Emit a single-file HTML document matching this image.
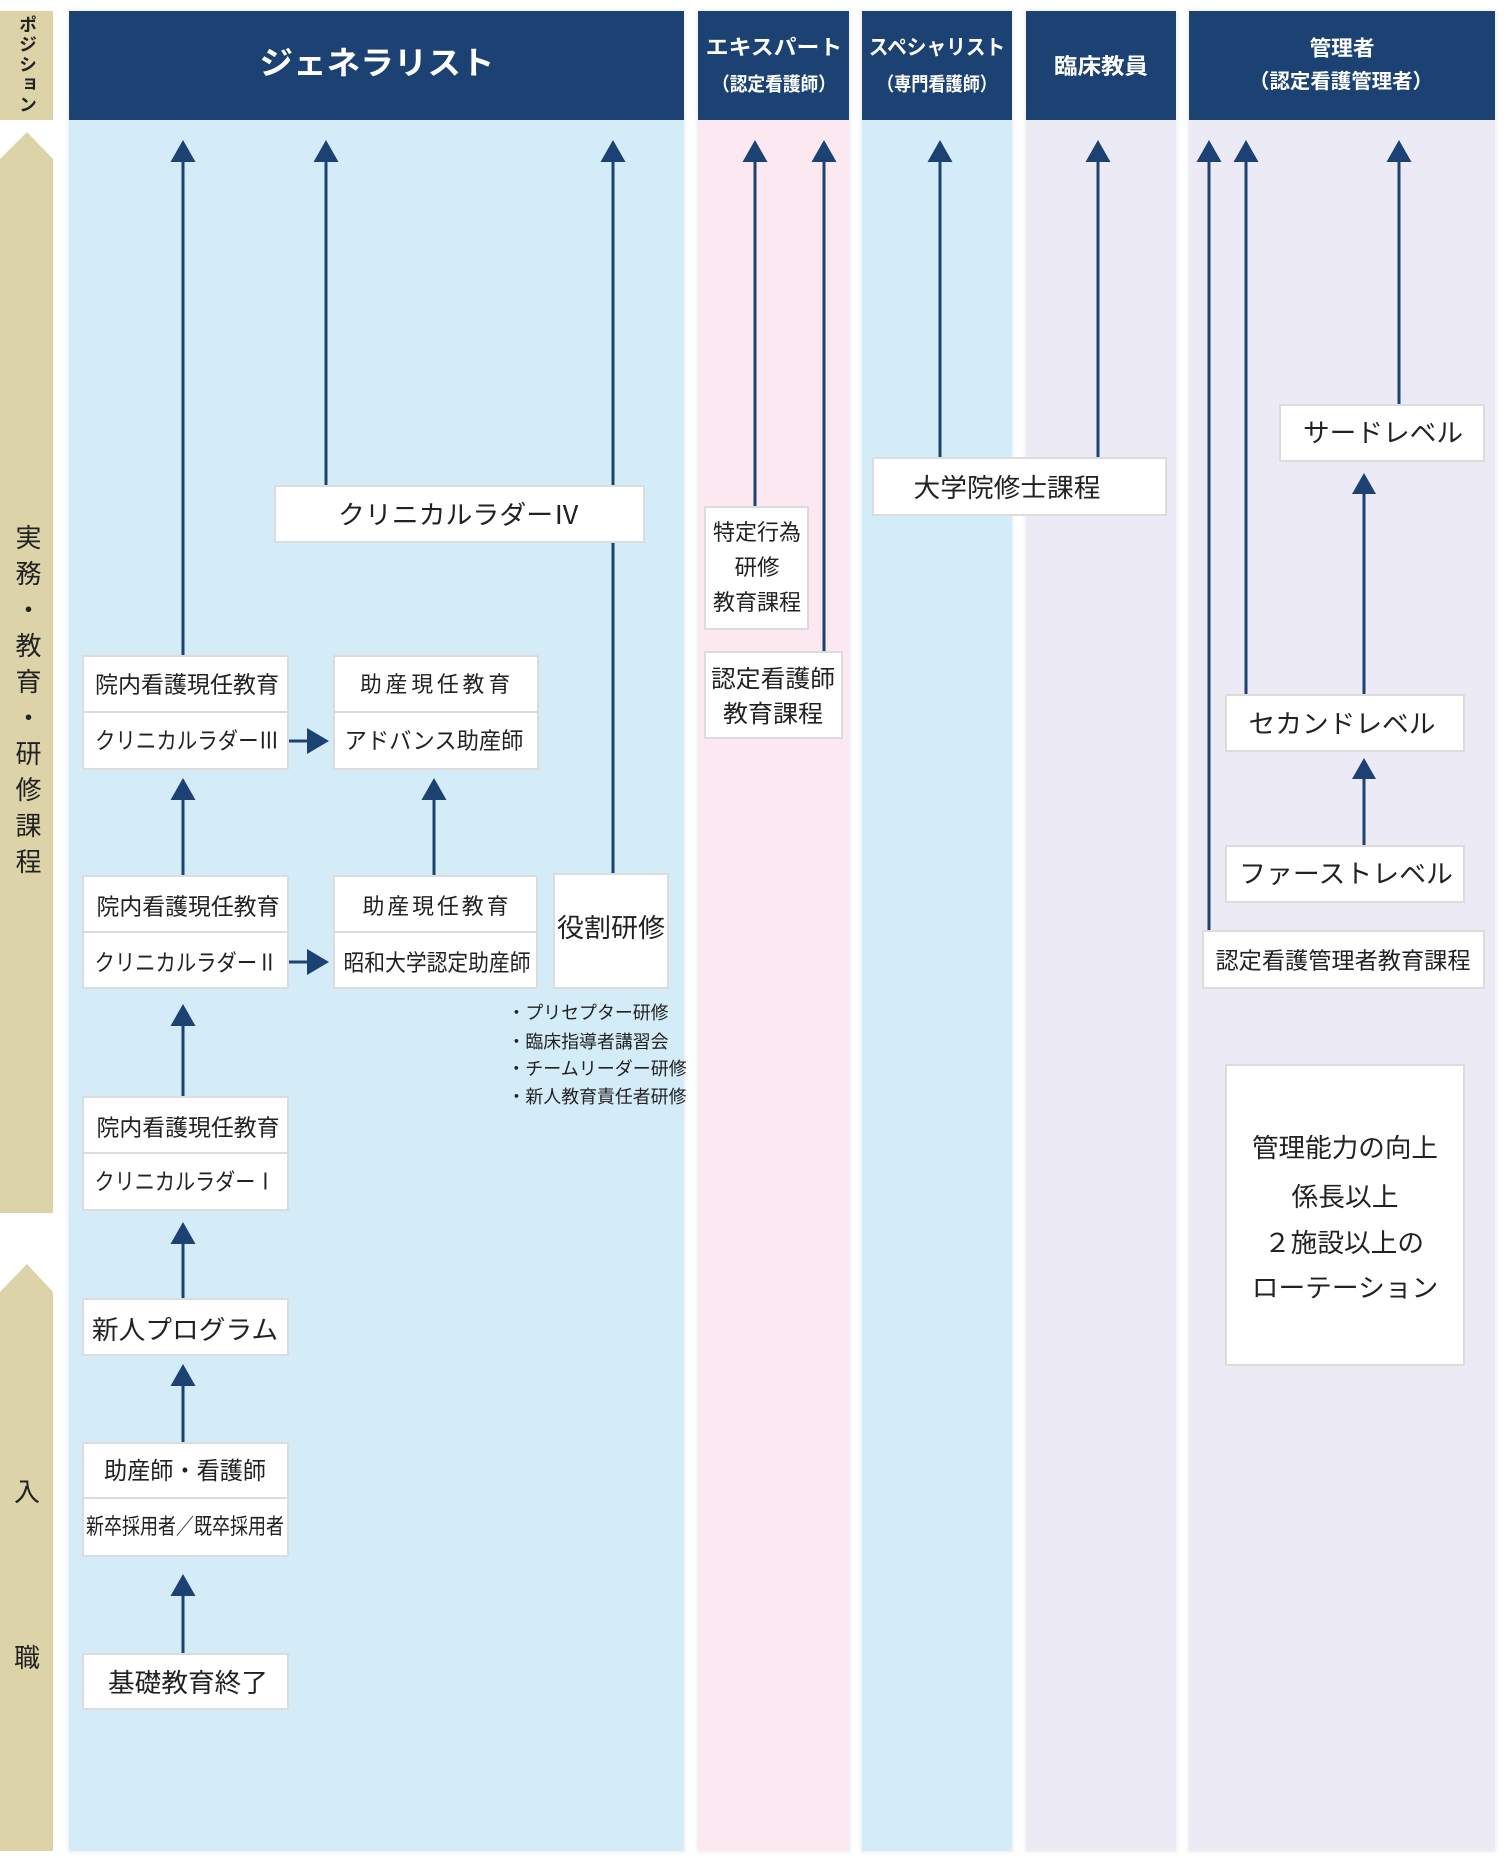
<!DOCTYPE html>
<html lang="ja">
<head>
<meta charset="utf-8">
<style>
html,body{margin:0;padding:0;background:#fff;}
body{position:relative;width:1506px;height:1860px;overflow:hidden;font-family:"Liberation Sans","Noto Sans CJK JP",sans-serif;color:#222;}
.col{position:absolute;top:11px;height:1840px;box-shadow:0 0 4px 1px rgba(0,0,0,.08);}
.hd{position:absolute;left:0;right:0;top:0;height:109px;background:#1b4273;}
.b{position:absolute;background:#fff;border:2px solid #dcdcdc;box-sizing:border-box;}
.dv{position:absolute;height:2px;background:#dcdcdc;}
.t{position:absolute;transform:translate(-50%,-50%);white-space:nowrap;line-height:1;font-family:"Liberation Sans","Noto Sans CJK JP",sans-serif;}
.w{color:#fff;font-weight:700;}
.vt{position:absolute;left:0;width:53px;writing-mode:vertical-rl;line-height:53px;text-align:start;white-space:nowrap;}
</style>
</head>
<body>

<!-- left sidebar -->
<div style="position:absolute;left:0;top:11px;width:53px;height:109px;background:#dcd3a8;"></div>
<div class="vt" style="top:15px;font-size:18px;font-weight:700;letter-spacing:2px;">ポジション</div>
<svg style="position:absolute;left:0;top:0" width="60" height="1860">
  <polygon points="27,132 53,159 53,1213 0,1213 0,159" fill="#dcd3a8"/>
  <polygon points="27,1264 53,1292 53,1851 0,1851 0,1292" fill="#dcd3a8"/>
</svg>
<div class="vt" style="top:524px;font-size:26px;letter-spacing:10px;">実務・教育・研修課程</div>
<div class="t" style="left:27px;top:1492px;font-size:26px;">入</div>
<div class="t" style="left:27px;top:1658px;font-size:26px;">職</div>

<!-- columns -->
<div class="col" style="left:69px;width:615px;background:#d4ebf8;"><div class="hd"></div></div>
<div class="col" style="left:698px;width:151px;background:#fbe8f1;"><div class="hd"></div></div>
<div class="col" style="left:862px;width:150px;background:#d4ebf8;"><div class="hd"></div></div>
<div class="col" style="left:1026px;width:150px;background:#ecebf5;"><div class="hd"></div></div>
<div class="col" style="left:1189px;width:306px;background:#ecebf5;"><div class="hd"></div></div>

<!-- connectors -->
<svg style="position:absolute;left:0;top:0" width="1506" height="1860">
  <g stroke="#1b4273" stroke-width="3" fill="none">
    <line x1="183" y1="158" x2="183" y2="656"/>
    <line x1="326" y1="158" x2="326" y2="486"/>
    <line x1="613" y1="158" x2="613" y2="874"/>
    <line x1="183" y1="796" x2="183" y2="876"/>
    <line x1="434" y1="796" x2="434" y2="876"/>
    <line x1="183" y1="1022" x2="183" y2="1097"/>
    <line x1="183" y1="1240" x2="183" y2="1299"/>
    <line x1="183" y1="1382" x2="183" y2="1443"/>
    <line x1="183" y1="1592" x2="183" y2="1654"/>
    <line x1="755" y1="158" x2="755" y2="507"/>
    <line x1="824" y1="158" x2="824" y2="652"/>
    <line x1="940" y1="158" x2="940" y2="458"/>
    <line x1="1098" y1="158" x2="1098" y2="458"/>
    <line x1="1209" y1="158" x2="1209" y2="931"/>
    <line x1="1246" y1="158" x2="1246" y2="695"/>
    <line x1="1399" y1="158" x2="1399" y2="405"/>
    <line x1="1364" y1="490" x2="1364" y2="695"/>
    <line x1="1364" y1="775" x2="1364" y2="846"/>
    <line x1="288" y1="741" x2="310" y2="741"/>
    <line x1="288" y1="962" x2="310" y2="962"/>
  </g>
  <g fill="#1b4273">
    <polygon points="183,140 170.5,162 195.5,162"/>
    <polygon points="326,140 313.5,162 338.5,162"/>
    <polygon points="613,140 600.5,162 625.5,162"/>
    <polygon points="183,778 170.5,800 195.5,800"/>
    <polygon points="434,778 421.5,800 446.5,800"/>
    <polygon points="183,1004 170.5,1026 195.5,1026"/>
    <polygon points="183,1222 170.5,1244 195.5,1244"/>
    <polygon points="183,1364 170.5,1386 195.5,1386"/>
    <polygon points="183,1574 170.5,1596 195.5,1596"/>
    <polygon points="755,140 742.5,162 767.5,162"/>
    <polygon points="824,140 811.5,162 836.5,162"/>
    <polygon points="940,140 927.5,162 952.5,162"/>
    <polygon points="1098,140 1085.5,162 1110.5,162"/>
    <polygon points="1209,140 1196.5,162 1221.5,162"/>
    <polygon points="1246,140 1233.5,162 1258.5,162"/>
    <polygon points="1399,140 1386.5,162 1411.5,162"/>
    <polygon points="1364,473 1352,494 1376,494"/>
    <polygon points="1364,758 1352,779 1376,779"/>
    <polygon points="307,728 329,741 307,754"/>
    <polygon points="307,949 329,962 307,975"/>
  </g>
</svg>

<!-- boxes -->
<div class="b" style="left:274px;top:485px;width:371px;height:58px;"></div>
<div class="b" style="left:82px;top:655px;width:207px;height:115px;"></div><div class="dv" style="left:82px;top:711px;width:207px;"></div>
<div class="b" style="left:333px;top:655px;width:206px;height:115px;"></div><div class="dv" style="left:333px;top:711px;width:206px;"></div>
<div class="b" style="left:82px;top:875px;width:207px;height:114px;"></div><div class="dv" style="left:82px;top:931px;width:207px;"></div>
<div class="b" style="left:333px;top:875px;width:205px;height:114px;"></div><div class="dv" style="left:333px;top:931px;width:205px;"></div>
<div class="b" style="left:553px;top:873px;width:116px;height:116px;"></div>
<div class="b" style="left:82px;top:1096px;width:207px;height:115px;"></div><div class="dv" style="left:82px;top:1152px;width:207px;"></div>
<div class="b" style="left:82px;top:1298px;width:207px;height:58px;"></div>
<div class="b" style="left:82px;top:1442px;width:207px;height:115px;"></div><div class="dv" style="left:82px;top:1497px;width:207px;"></div>
<div class="b" style="left:82px;top:1653px;width:207px;height:57px;"></div>
<div class="b" style="left:704px;top:506px;width:105px;height:124px;"></div>
<div class="b" style="left:704px;top:651px;width:139px;height:88px;"></div>
<div class="b" style="left:872px;top:457px;width:295px;height:59px;"></div>
<div class="b" style="left:1279px;top:404px;width:206px;height:58px;"></div>
<div class="b" style="left:1225px;top:694px;width:240px;height:58px;"></div>
<div class="b" style="left:1225px;top:845px;width:240px;height:58px;"></div>
<div class="b" style="left:1202px;top:930px;width:283px;height:59px;"></div>
<div class="b" style="left:1225px;top:1064px;width:240px;height:302px;"></div>

<!-- header texts -->
<div class="t w" style="left:377px;top:63px;font-size:32px;--w:233;">ジェネラリスト</div>
<div class="t w" style="left:774px;top:48px;font-size:21px;--w:134;">エキスパート</div>
<div class="t w" style="left:774px;top:85px;font-size:19px;--w:122;">（認定看護師）</div>
<div class="t w" style="left:937px;top:48px;font-size:21px;--w:135;">スペシャリスト</div>
<div class="t w" style="left:937px;top:85px;font-size:19px;--w:118;">（専門看護師）</div>
<div class="t w" style="left:1101px;top:67px;font-size:22px;--w:92;">臨床教員</div>
<div class="t w" style="left:1342px;top:49px;font-size:21px;--w:63;">管理者</div>
<div class="t w" style="left:1341px;top:82px;font-size:20px;--w:182;">（認定看護管理者）</div>

<!-- box texts -->
<div class="t" style="left:459px;top:515px;font-size:26px;--w:240;">クリニカルラダーⅣ</div>
<div class="t" style="left:187px;top:685px;font-size:23px;--w:182;">院内看護現任教育</div>
<div class="t" style="left:187px;top:741px;font-size:23px;--w:182;">クリニカルラダーⅢ</div>
<div class="t" style="left:437px;top:685px;font-size:22px;letter-spacing:4px;--w:152;">助産現任教育</div>
<div class="t" style="left:434px;top:741px;font-size:23px;--w:177;">アドバンス助産師</div>
<div class="t" style="left:188px;top:907px;font-size:23px;--w:181;">院内看護現任教育</div>
<div class="t" style="left:186px;top:963px;font-size:23px;--w:181;">クリニカルラダーⅡ</div>
<div class="t" style="left:437px;top:907px;font-size:22px;letter-spacing:3px;--w:147;">助産現任教育</div>
<div class="t" style="left:437px;top:963px;font-size:23px;--w:185;">昭和大学認定助産師</div>
<div class="t" style="left:611px;top:928px;font-size:26px;--w:106;">役割研修</div>
<div class="t" style="left:588px;top:1013px;font-size:18px;--w:159;">・プリセプター研修</div>
<div class="t" style="left:588px;top:1042px;font-size:18px;--w:159;">・臨床指導者講習会</div>
<div class="t" style="left:597px;top:1069px;font-size:18px;--w:177;">・チームリーダー研修</div>
<div class="t" style="left:597px;top:1097px;font-size:18px;--w:177;">・新人教育責任者研修</div>
<div class="t" style="left:188px;top:1128px;font-size:23px;--w:181;">院内看護現任教育</div>
<div class="t" style="left:185px;top:1182px;font-size:23px;--w:179;">クリニカルラダーⅠ</div>
<div class="t" style="left:185px;top:1330px;font-size:26px;--w:184;">新人プログラム</div>
<div class="t" style="left:185px;top:1472px;font-size:24px;--w:160;">助産師・看護師</div>
<div class="t" style="left:185px;top:1527px;font-size:22px;--w:196;">新卒採用者／既卒採用者</div>
<div class="t" style="left:188px;top:1683px;font-size:26px;--w:158;">基礎教育終了</div>

<div class="t" style="left:757px;top:533px;font-size:22px;--w:86;">特定行為</div>
<div class="t" style="left:757px;top:568px;font-size:22px;--w:43;">研修</div>
<div class="t" style="left:757px;top:603px;font-size:22px;--w:86;">教育課程</div>
<div class="t" style="left:773px;top:680px;font-size:24px;--w:122;">認定看護師</div>
<div class="t" style="left:773px;top:715px;font-size:24px;--w:98;">教育課程</div>
<div class="t" style="left:1007px;top:488px;font-size:26px;--w:185;">大学院修士課程</div>

<div class="t" style="left:1383px;top:433px;font-size:26px;--w:158;">サードレベル</div>
<div class="t" style="left:1342px;top:724px;font-size:26px;--w:185;">セカンドレベル</div>
<div class="t" style="left:1346px;top:874px;font-size:26px;--w:212;">ファーストレベル</div>
<div class="t" style="left:1343px;top:961px;font-size:23px;--w:253;">認定看護管理者教育課程</div>
<div class="t" style="left:1345px;top:1148px;font-size:26px;--w:184;">管理能力の向上</div>
<div class="t" style="left:1345px;top:1197px;font-size:26px;--w:105;">係長以上</div>
<div class="t" style="left:1344px;top:1243px;font-size:26px;--w:158;">２施設以上の</div>
<div class="t" style="left:1345px;top:1288px;font-size:26px;--w:184;">ローテーション</div>

<script>
(function(){
  var els=document.querySelectorAll('.t');
  for(var i=0;i<els.length;i++){
    var e=els[i];
    var w=parseFloat(e.style.getPropertyValue('--w'));
    if(!w)continue;
    var r=e.offsetWidth;
    if(!r)continue;
    var s=(w+2)/r;
    if(s<0.6)s=0.6;if(s>1.4)s=1.4;
    e.style.transform='translate(-50%,-50%) scaleX('+s.toFixed(3)+')';
  }
})();
</script>
</body>
</html>
